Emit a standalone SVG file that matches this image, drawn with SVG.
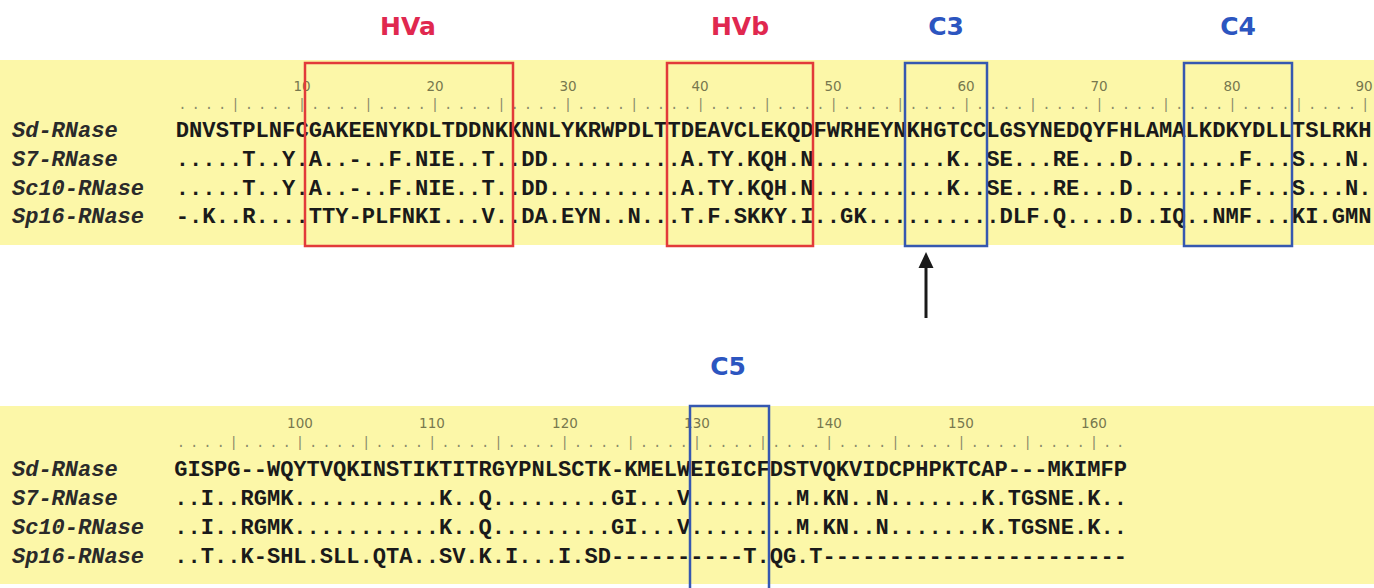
<svg xmlns="http://www.w3.org/2000/svg" width="1374" height="588" viewBox="0 0 1374 588">
<style>
.band{fill:#fcf7a8}
.seq{font-family:"Liberation Mono","Courier New",monospace;font-weight:bold;font-size:22.15px;fill:#1a1a1a}
.seqb{font-family:"Liberation Mono","Courier New",monospace;font-weight:bold;font-size:22.05px;fill:#1a1a1a}
.name{font-family:"Liberation Mono","Courier New",monospace;font-weight:bold;font-style:italic;font-size:22px;fill:#2a2a2a}
.rul{font-family:"Liberation Mono","Courier New",monospace;font-size:14px;fill:#8a8a6a}
.num{font-family:"DejaVu Sans","Liberation Sans",sans-serif;font-size:13.5px;fill:#77774e;text-anchor:middle}
.lab{font-family:"DejaVu Sans","Liberation Sans",sans-serif;font-weight:bold;font-size:25px;text-anchor:middle}
.red{fill:#e0284f}
.blue{fill:#2c55c0}
.rbox{fill:none;stroke:#e23a3a;stroke-width:2.5}
.bbox{fill:none;stroke:#3558b0;stroke-width:2.5}
</style>
<rect width="1374" height="588" fill="#ffffff"/>
<g id="bands">
<rect class="band" x="0" y="60" width="1374" height="185"/>
<rect class="band" x="0" y="406" width="1374" height="178"/>
</g>
<g id="labels">
<text class="lab red" x="408" y="35">HVa</text>
<text class="lab red" x="740" y="35">HVb</text>
<text class="lab blue" x="946" y="35">C3</text>
<text class="lab blue" x="1238" y="35">C4</text>
<text class="lab blue" x="728" y="375">C5</text>
</g>
<g id="top-block">
<g class="num">
<text x="302" y="91">10</text>
<text x="435" y="91">20</text>
<text x="568" y="91">30</text>
<text x="700" y="91">40</text>
<text x="833" y="91">50</text>
<text x="966" y="91">60</text>
<text x="1099" y="91">70</text>
<text x="1232" y="91">80</text>
<text x="1364" y="91">90</text>
</g>
<text class="rul" x="178.2" y="109" letter-spacing="4.89">....|....|....|....|....|....|....|....|....|....|....|....|....|....|....|....|....|....|</text>
<text class="name" x="12" y="137">Sd-RNase</text>
<text class="name" x="12" y="166">S7-RNase</text>
<text class="name" x="12" y="195">Sc10-RNase</text>
<text class="name" x="12" y="223">Sp16-RNase</text>
<text class="seq" x="175.8" y="137">DNVSTPLNFCGAKEENYKDLTDDNKKNNLYKRWPDLTTDEAVCLEKQDFWRHEYNKHGTCCLGSYNEDQYFHLAMALKDKYDLLTSLRKH</text>
<text class="seq" x="175.8" y="166">.....T..Y.A..-..F.NIE..T..DD..........A.TY.KQH.N..........K..SE...RE...D........F...S...N.</text>
<text class="seq" x="175.8" y="195">.....T..Y.A..-..F.NIE..T..DD..........A.TY.KQH.N..........K..SE...RE...D........F...S...N.</text>
<text class="seq" x="175.8" y="223">-.K..R....TTY-PLFNKI...V..DA.EYN..N...T.F.SKKY.I..GK..........DLF.Q....D..IQ..NMF...KI.GMN</text>
</g>
<g id="bottom-block">
<g class="num">
<text x="300" y="428">100</text>
<text x="432" y="428">110</text>
<text x="565" y="428">120</text>
<text x="697" y="428">130</text>
<text x="829" y="428">140</text>
<text x="961" y="428">150</text>
<text x="1094" y="428">160</text>
</g>
<text class="rul" x="176.7" y="447" letter-spacing="4.83">....|....|....|....|....|....|....|....|....|....|....|....|....|....|..</text>
<text class="name" x="12" y="476">Sd-RNase</text>
<text class="name" x="12" y="505">S7-RNase</text>
<text class="name" x="12" y="534">Sc10-RNase</text>
<text class="name" x="12" y="563">Sp16-RNase</text>
<text class="seqb" x="174.3" y="476">GISPG--WQYTVQKINSTIKTITRGYPNLSCTK-KMELWEIGICFDSTVQKVIDCPHPKTCAP---MKIMFP</text>
<text class="seqb" x="174.3" y="505">..I..RGMK...........K..Q.........GI...V........M.KN..N.......K.TGSNE.K..</text>
<text class="seqb" x="174.3" y="534">..I..RGMK...........K..Q.........GI...V........M.KN..N.......K.TGSNE.K..</text>
<text class="seqb" x="174.3" y="563">..T..K-SHL.SLL.QTA..SV.K.I...I.SD----------T.QG.T-----------------------</text>
</g>
<g id="boxes">
<rect id="box-HVa" class="rbox" x="305" y="63" width="208" height="183"/>
<rect id="box-HVb" class="rbox" x="667" y="63" width="146" height="183"/>
<rect id="box-C3" class="bbox" x="905" y="63" width="82" height="183"/>
<rect id="box-C4" class="bbox" x="1184" y="63" width="108" height="183"/>
<rect id="box-C5" class="bbox" x="690" y="406" width="79" height="186"/>
</g>
<g id="connectors">
<line x1="926" y1="318" x2="926" y2="264" stroke="#1a1a1a" stroke-width="3"/>
<polygon points="926,252 918.5,268 933.5,268" fill="#1a1a1a"/>
</g>
</svg>
